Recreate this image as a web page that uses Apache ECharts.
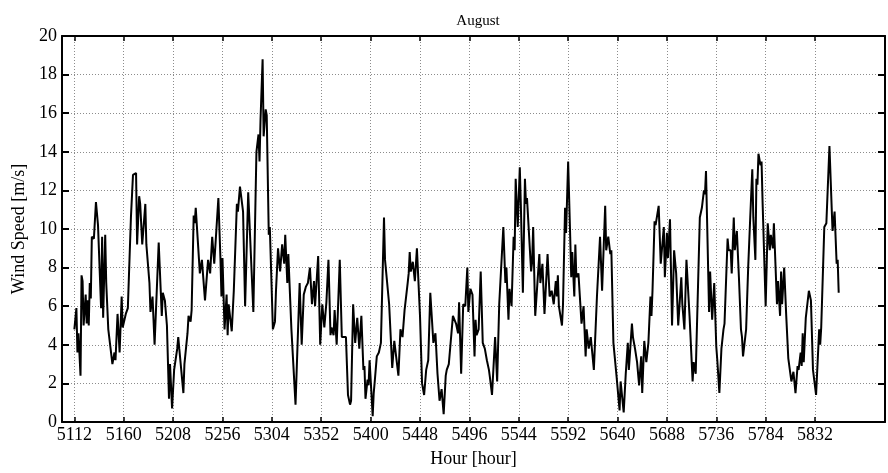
<!DOCTYPE html>
<html>
<head>
<meta charset="utf-8">
<script src="https://cdn.jsdelivr.net/npm/echarts@6/dist/echarts.min.js"></script>
<style>
html,body{margin:0;padding:0;background:#fff;}
#chart{width:888px;height:473px;}
</style>
</head>
<body>
<div id="chart"></div>
<script>
// ---- data ----
const titleText = 'August';
const xName = 'Hour [hour]';
const yName = 'Wind Speed [m/s]';
const xTicks = [5112, 5160, 5208, 5256, 5304, 5352, 5400, 5448, 5496, 5544, 5592, 5640, 5688, 5736, 5784, 5832];
const yTicks = [0, 2, 4, 6, 8, 10, 12, 14, 16, 18, 20];

const hours = [
5112,5114,5115,5116,5118,5119,5120,5121,5123,5124,5125,5126,5127,5128,5129,5131,5133,5135,5138,5139,5140,5142,5143,5145,5147,5149,5151,5152,5154,5156,5158,5159,5162,5164,5167,5169,5172,5173,5175,5176,5178,5181,5182,5185,5186,5188,5190,5194,5197,5198,5200,5202,
5204,5205,5207,5209,5212,5213,5214,5218,5219,5220,5222,5223,5225,5226,5228,5229,5230,5232,5234,5236,5239,5242,5244,5246,5248,5252,5254,5255,5256,5258,5260,5261,5262,5265,5267,5270,5271,5273,5276,5278,5281,5286,5289,5291,5292,5293,5295,5296,
5298,5299,5301,5302,5305,5307,5308,5310,5312,5314,5316,5317,5319,5320,5323,5324,5327,5331,5333,5335,5337,5339,5341,5343,5345,5346,5349,5351,5353,5355,5357,5359,5361,5362,5364,5365,5367,5370,5372,5374,5376,5378,5380,5381,5383,5385,5387,5389,
5391,5393,5394,5395,5397,5398,5399,5402,5403,5404,5406,5408,5410,5413,5414,5415,5418,5421,5423,5427,5429,5431,5433,5436,5437,5438,5439,5441,5443,5445,5448,5450,5452,5454,5456,5458,5461,5463,5465,5467,5469,5471,5473,5474,5476,5480,5483,5485,5486,
5488,5490,5492,5494,5495,5497,5499,5501,5502,5503,5505,5507,5509,5511,5513,5515,5516,5518,5521,5523,5525,5529,5531,5532,5534,5535,5537,5539,5540,5541,5543,5545,5546,5548,5550,5551,5552,5556,5557,5558,5560,5564,5565,5567,5569,5572,5574,5576,5578,5580,
5581,5582,5583,5586,5587,5589,5590,5592,5594,5595,5596,5598,5599,5600,5602,5605,5607,5609,5610,5612,5614,5617,5620,5621,5623,5625,5628,5629,5631,5633,5634,5636,5639,5642,5643,5646,5648,5650,5651,5654,5655,5657,5659,5661,5663,5664,5666,5668,5670,
5672,5673,5674,5676,5677,5680,5682,5685,5686,5688,5689,5691,5693,5695,5697,5699,5702,5703,5705,5707,5710,5713,5714,5716,5720,5722,5724,5725,5726,5727,5729,5730,5732,5734,5736,5737,5739,5741,5743,5744,5747,5748,5750,5751,5753,5754,5756,5758,5760,5761,5762,5765,
5767,5769,5771,5772,5773,5774,5775,5776,5777,5779,5780,5781,5784,5786,5788,5789,5791,5792,5795,5796,5798,5799,5800,5802,5804,5806,5809,5811,5813,5815,5816,5818,5819,5820,5821,5823,5826,5828,5830,5833,5836,5837,5838,5841,5843,5846,5849,5851,5853,5854,5855
];

const speed = [
4.8,5.9,3.6,4.6,2.4,7.6,7.3,5.0,6.6,5.1,6.3,5.0,7.2,6.4,9.6,9.5,11.4,10.2,5.9,9.6,5.4,9.7,7.2,4.8,3.9,3.0,3.6,3.2,5.6,3.6,6.5,4.9,5.6,5.9,10.6,12.8,12.9,9.2,11.7,11.3,9.2,11.3,9.2,7.2,5.7,6.5,4.0,9.3,5.5,6.7,6.3,5.0,
1.2,3.0,0.7,2.7,3.8,4.4,3.8,1.5,3.0,2.9,4.6,5.5,5.2,5.8,10.7,10.3,11.1,9.4,7.7,8.4,6.3,8.4,7.7,9.6,8.2,11.6,8.5,6.5,8.5,4.8,6.6,4.5,6.1,4.7,6.8,11.3,10.9,12.2,10.9,6.0,11.9,5.7,14.0,14.9,13.5,15.7,18.8,14.8,
16.2,15.9,9.7,10.1,4.8,5.2,6.8,9.0,7.8,9.2,8.2,9.7,7.2,8.7,4.8,4.7,0.9,7.2,4.0,6.6,7.0,7.2,8.0,6.1,7.3,6.0,8.6,4.0,6.1,4.9,6.2,8.4,4.5,4.9,4.5,5.8,4.0,8.4,4.4,4.4,4.4,1.4,0.9,1.1,6.1,4.1,5.4,3.8,
5.5,2.7,2.9,1.2,2.2,1.9,3.2,0.3,1.5,2.1,3.4,3.6,4.1,10.6,8.4,8.5,6.1,2.8,4.2,2.4,4.8,4.4,5.8,7.2,7.7,8.8,7.8,8.3,7.3,9.0,5.5,2.0,1.4,2.7,3.2,6.7,4.1,4.6,2.5,1.1,1.7,0.4,2.4,2.7,3.0,5.5,5.1,4.6,6.2,
2.5,6.1,6.0,8.0,5.7,6.9,6.6,3.4,5.3,4.5,4.8,7.8,4.1,3.8,3.2,2.7,2.3,1.4,4.4,2.1,6.1,10.1,7.2,8.0,5.3,6.9,6.0,9.6,8.9,12.6,10.1,13.2,11.3,6.7,12.6,11.3,11.6,7.8,8.3,10.1,5.5,8.7,7.2,8.2,5.6,8.7,6.5,6.8,6.1,7.3,
6.5,7.6,6.0,5.0,6.1,11.1,9.8,13.5,9.6,7.5,8.8,6.5,9.2,7.5,7.7,5.1,6.0,3.4,4.8,3.8,4.4,2.7,6.5,6.5,9.6,6.8,11.2,8.9,9.6,8.7,8.9,4.1,2.4,0.6,2.1,0.5,2.5,4.1,2.7,5.1,4.4,3.8,3.1,1.9,3.4,1.5,4.2,3.1,4.1,
6.5,5.5,6.8,10.4,10.2,11.2,8.2,10.1,7.5,9.8,8.5,10.5,5.0,8.9,7.7,5.0,7.5,6.1,4.8,8.4,5.5,2.1,3.1,2.5,10.6,11.1,12.0,11.8,13.0,10.6,5.7,7.8,5.3,7.2,3.9,3.2,1.5,3.8,4.8,5.1,9.5,8.9,8.9,7.7,10.6,8.9,9.9,7.5,4.8,4.4,3.4,4.8,
8.0,10.6,13.1,10.6,10.7,8.4,12.6,12.3,13.9,13.3,13.5,11.4,6.0,10.3,8.9,9.7,9.0,10.3,6.1,7.3,5.5,7.8,6.1,8.0,5.5,3.3,2.1,2.6,1.5,2.9,2.7,3.6,2.9,4.6,3.1,5.4,6.8,6.3,2.7,1.4,4.8,4.0,4.9,10.1,10.3,14.3,9.9,10.9,8.2,8.4,6.7
];

const seriesData = hours.map((h, i) => [h, speed[i]]);

const FONT = 'Liberation Serif';
const chart = echarts.init(document.getElementById('chart'), null, {renderer: 'canvas'});
const xTick = {show: true, inside: true, length: 5, lineStyle: {color: '#000', width: 1.5}};
const yTick = {show: true, inside: true, length: 7, lineStyle: {color: '#000', width: 2}};
const axisLineCommon = {show: true, onZero: false, lineStyle: {color: '#000', width: 2}};
const gridLine = {show: true, lineStyle: {color: '#8c8c8c', type: [1, 2], width: 1}};

chart.setOption({
  animation: false,
  backgroundColor: '#fff',
  title: {
    text: titleText, left: 473, top: 9, textAlign: 'center',
    textStyle: {fontFamily: FONT, fontSize: 15, fontWeight: 'normal', color: '#000'}
  },
  grid: {left: 62, right: 3, top: 36, bottom: 46, containLabel: false},
  xAxis: [{
    type: 'value', min: 5100, max: 5900, position: 'bottom',
    axisLine: axisLineCommon,
    axisTick: Object.assign({customValues: xTicks}, xTick),
    axisLabel: {customValues: xTicks, formatter: v => String(v), fontFamily: FONT, fontSize: 18, color: '#000', margin: 4},
    splitLine: gridLine,
    name: xName, nameLocation: 'middle', nameGap: 28,
    nameTextStyle: {fontFamily: FONT, fontSize: 18, color: '#000'}
  }, {
    type: 'value', min: 5100, max: 5900, position: 'top',
    axisLine: axisLineCommon,
    axisTick: Object.assign({customValues: xTicks}, xTick),
    axisLabel: {show: false},
    splitLine: {show: false}
  }],
  yAxis: [{
    type: 'value', min: 0, max: 20, interval: 2, position: 'left',
    axisLine: axisLineCommon,
    axisTick: yTick,
    axisLabel: {customValues: yTicks, formatter: v => String(v), fontFamily: FONT, fontSize: 18, color: '#000', margin: 5},
    splitLine: gridLine,
    name: yName, nameLocation: 'middle', nameGap: 33,
    nameTextStyle: {fontFamily: FONT, fontSize: 18, color: '#000'}
  }, {
    type: 'value', min: 0, max: 20, interval: 2, position: 'right',
    axisLine: axisLineCommon,
    axisTick: yTick,
    axisLabel: {show: false},
    splitLine: {show: false}
  }],
  series: [{
    type: 'line', data: seriesData, xAxisIndex: 0, yAxisIndex: 0,
    showSymbol: false, symbol: 'none',
    lineStyle: {color: '#000', width: 2},
    itemStyle: {color: '#000'}
  }]
});
</script>
</body>
</html>
